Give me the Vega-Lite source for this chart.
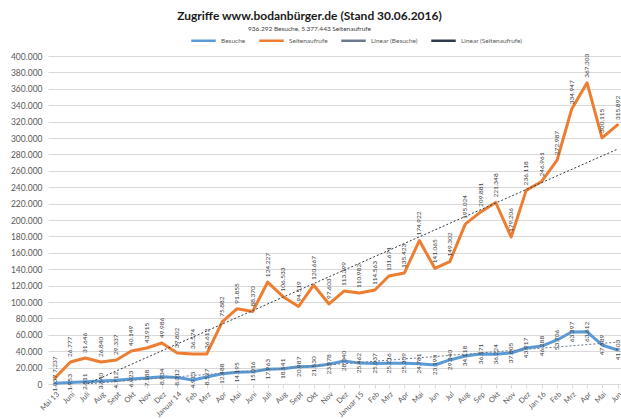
{
  "$schema": "https://vega.github.io/schema/vega-lite/v6.json",
  "width": 573,
  "height": 328,
  "autosize": {"type": "none"},
  "padding": {"left": 48, "top": 56, "right": 0, "bottom": 35},
  "background": "white",
  "title": {
    "text": "Zugriffe www.bodanbürger.de (Stand 30.06.2016)",
    "subtitle": "936.292 Besuche, 5.377.443 Seitenaufrufe",
    "anchor": "middle",
    "frame": "group",
    "dx": -25,
    "offset": -6,
    "font": "Lato",
    "fontSize": 12,
    "fontWeight": "bold",
    "color": "#1a1a1a",
    "subtitleFont": "Lato",
    "subtitleFontSize": 6.5,
    "subtitleColor": "#404040",
    "subtitlePadding": 3
  },
  "data": {
    "values": [
      {"monat": "2013-05-01", "serie": "Besuche", "wert": 1037},
      {"monat": "2013-06-01", "serie": "Besuche", "wert": 1953},
      {"monat": "2013-07-01", "serie": "Besuche", "wert": 2811},
      {"monat": "2013-08-01", "serie": "Besuche", "wert": 3640},
      {"monat": "2013-09-01", "serie": "Besuche", "wert": 4712},
      {"monat": "2013-10-01", "serie": "Besuche", "wert": 6023},
      {"monat": "2013-11-01", "serie": "Besuche", "wert": 7188},
      {"monat": "2013-12-01", "serie": "Besuche", "wert": 8934},
      {"monat": "2014-01-01", "serie": "Besuche", "wert": 8012},
      {"monat": "2014-02-01", "serie": "Besuche", "wert": 4913},
      {"monat": "2014-03-01", "serie": "Besuche", "wert": 8527},
      {"monat": "2014-04-01", "serie": "Besuche", "wert": 12488},
      {"monat": "2014-05-01", "serie": "Besuche", "wert": 14195},
      {"monat": "2014-06-01", "serie": "Besuche", "wert": 15016},
      {"monat": "2014-07-01", "serie": "Besuche", "wert": 17963},
      {"monat": "2014-08-01", "serie": "Besuche", "wert": 18541},
      {"monat": "2014-09-01", "serie": "Besuche", "wert": 20987},
      {"monat": "2014-10-01", "serie": "Besuche", "wert": 21530},
      {"monat": "2014-11-01", "serie": "Besuche", "wert": 23978},
      {"monat": "2014-12-01", "serie": "Besuche", "wert": 28040},
      {"monat": "2015-01-01", "serie": "Besuche", "wert": 25462},
      {"monat": "2015-02-01", "serie": "Besuche", "wert": 25037},
      {"monat": "2015-03-01", "serie": "Besuche", "wert": 25216},
      {"monat": "2015-04-01", "serie": "Besuche", "wert": 25309},
      {"monat": "2015-05-01", "serie": "Besuche", "wert": 24781},
      {"monat": "2015-06-01", "serie": "Besuche", "wert": 23190},
      {"monat": "2015-07-01", "serie": "Besuche", "wert": 29340},
      {"monat": "2015-08-01", "serie": "Besuche", "wert": 34118},
      {"monat": "2015-09-01", "serie": "Besuche", "wert": 36571},
      {"monat": "2015-10-01", "serie": "Besuche", "wert": 36224},
      {"monat": "2015-11-01", "serie": "Besuche", "wert": 37805},
      {"monat": "2015-12-01", "serie": "Besuche", "wert": 43917},
      {"monat": "2016-01-01", "serie": "Besuche", "wert": 46288},
      {"monat": "2016-02-01", "serie": "Besuche", "wert": 53706},
      {"monat": "2016-03-01", "serie": "Besuche", "wert": 63397},
      {"monat": "2016-04-01", "serie": "Besuche", "wert": 63612},
      {"monat": "2016-05-01", "serie": "Besuche", "wert": 47589},
      {"monat": "2016-06-01", "serie": "Besuche", "wert": 41503},
      {"monat": "2013-05-01", "serie": "Seitenaufrufe", "wert": 7237},
      {"monat": "2013-06-01", "serie": "Seitenaufrufe", "wert": 26777},
      {"monat": "2013-07-01", "serie": "Seitenaufrufe", "wert": 31646},
      {"monat": "2013-08-01", "serie": "Seitenaufrufe", "wert": 26840},
      {"monat": "2013-09-01", "serie": "Seitenaufrufe", "wert": 29337},
      {"monat": "2013-10-01", "serie": "Seitenaufrufe", "wert": 40149},
      {"monat": "2013-11-01", "serie": "Seitenaufrufe", "wert": 43915},
      {"monat": "2013-12-01", "serie": "Seitenaufrufe", "wert": 49986},
      {"monat": "2014-01-01", "serie": "Seitenaufrufe", "wert": 37802},
      {"monat": "2014-02-01", "serie": "Seitenaufrufe", "wert": 36574},
      {"monat": "2014-03-01", "serie": "Seitenaufrufe", "wert": 36612},
      {"monat": "2014-04-01", "serie": "Seitenaufrufe", "wert": 75882},
      {"monat": "2014-05-01", "serie": "Seitenaufrufe", "wert": 91855},
      {"monat": "2014-06-01", "serie": "Seitenaufrufe", "wert": 88370},
      {"monat": "2014-07-01", "serie": "Seitenaufrufe", "wert": 124227},
      {"monat": "2014-08-01", "serie": "Seitenaufrufe", "wert": 106533},
      {"monat": "2014-09-01", "serie": "Seitenaufrufe", "wert": 94519},
      {"monat": "2014-10-01", "serie": "Seitenaufrufe", "wert": 120667},
      {"monat": "2014-11-01", "serie": "Seitenaufrufe", "wert": 97603},
      {"monat": "2014-12-01", "serie": "Seitenaufrufe", "wert": 113399},
      {"monat": "2015-01-01", "serie": "Seitenaufrufe", "wert": 110982},
      {"monat": "2015-02-01", "serie": "Seitenaufrufe", "wert": 114563},
      {"monat": "2015-03-01", "serie": "Seitenaufrufe", "wert": 131671},
      {"monat": "2015-04-01", "serie": "Seitenaufrufe", "wert": 135423},
      {"monat": "2015-05-01", "serie": "Seitenaufrufe", "wert": 174922},
      {"monat": "2015-06-01", "serie": "Seitenaufrufe", "wert": 141065},
      {"monat": "2015-07-01", "serie": "Seitenaufrufe", "wert": 149302},
      {"monat": "2015-08-01", "serie": "Seitenaufrufe", "wert": 195024},
      {"monat": "2015-09-01", "serie": "Seitenaufrufe", "wert": 209881},
      {"monat": "2015-10-01", "serie": "Seitenaufrufe", "wert": 221348},
      {"monat": "2015-11-01", "serie": "Seitenaufrufe", "wert": 179206},
      {"monat": "2015-12-01", "serie": "Seitenaufrufe", "wert": 236118},
      {"monat": "2016-01-01", "serie": "Seitenaufrufe", "wert": 246961},
      {"monat": "2016-02-01", "serie": "Seitenaufrufe", "wert": 272987},
      {"monat": "2016-03-01", "serie": "Seitenaufrufe", "wert": 334947},
      {"monat": "2016-04-01", "serie": "Seitenaufrufe", "wert": 367303},
      {"monat": "2016-05-01", "serie": "Seitenaufrufe", "wert": 300115},
      {"monat": "2016-06-01", "serie": "Seitenaufrufe", "wert": 315892}
    ]
  },
  "encoding": {
    "x": {
      "field": "monat",
      "type": "temporal",
      "scale": {
        "type": "utc",
        "domain": [
          {"year": 2013, "month": 4, "date": 17, "utc": true},
          {"year": 2016, "month": 6, "date": 8, "utc": true}
        ]
      },
      "axis": {
        "title": null,
        "grid": false,
        "tickCount": {"interval": "month", "step": 1},
        "labelAngle": -45,
        "labelFontSize": 7.5,
        "labelColor": "#595959",
        "labelOverlap": false,
        "labelFlush": false,
        "labelPadding": 2,
        "domainColor": "#d9d9d9",
        "tickColor": "#d9d9d9",
        "tickSize": 4,
        "labelExpr": "utcyear(datum.value)==2013 && utcmonth(datum.value)==4 ? 'Mai 13' : utcmonth(datum.value)==0 ? (utcyear(datum.value)==2016 ? 'Jan 16' : 'Januar ' + (utcyear(datum.value)-2000)) : (utcyear(datum.value)*12+utcmonth(datum.value) >= 2015*12+5 ? ['Jan','Feb','Mrz','Apr','Mai','Jun','Jul','Aug','Sep','Okt','Nov','Dez'][utcmonth(datum.value)] : ['Januar','Feb','Mrz','Apr','Mai','Juni','Juli','Aug','Sept','Okt','Nov','Dez'][utcmonth(datum.value)])"
      }
    },
    "y": {
      "field": "wert",
      "type": "quantitative",
      "scale": {"domain": [0, 400000], "nice": false},
      "axis": {
        "title": null,
        "tickCount": 20,
        "format": ",d",
        "domain": false,
        "ticks": false,
        "labelPadding": 6,
        "labelFontSize": 8.5,
        "labelColor": "#595959",
        "gridColor": "#d9d9d9"
      }
    }
  },
  "layer": [
    {
      "mark": {"type": "line", "strokeWidth": 3, "strokeCap": "round", "strokeJoin": "round"},
      "encoding": {
        "color": {
          "field": "serie",
          "type": "nominal",
          "scale": {
            "domain": ["Besuche", "Seitenaufrufe", "Linear (Besuche)", "Linear (Seitenaufrufe)"],
            "range": ["#5B9BD5", "#ED7D31", "#6b7a8f", "#2f3b4a"]
          },
          "legend": {
            "title": null,
            "orient": "none",
            "direction": "horizontal",
            "legendX": 142,
            "legendY": -29,
            "symbolType": "stroke",
            "symbolSize": 600,
            "symbolStrokeWidth": 2.5,
            "labelFontSize": 6.5,
            "labelColor": "#595959",
            "columnPadding": 8
          }
        }
      }
    },
    {
      "transform": [
        {"filter": "datum.serie == 'Besuche'"},
        {"regression": "wert", "on": "monat"}
      ],
      "mark": {"type": "line", "strokeWidth": 1, "strokeDash": [2, 2], "clip": true},
      "encoding": {"color": {"datum": "Linear (Besuche)"}}
    },
    {
      "transform": [
        {"filter": "datum.serie == 'Seitenaufrufe'"},
        {"regression": "wert", "on": "monat"}
      ],
      "mark": {"type": "line", "strokeWidth": 1, "strokeDash": [2, 2], "clip": true},
      "encoding": {"color": {"datum": "Linear (Seitenaufrufe)"}}
    },
    {
      "transform": [{"filter": "datum.serie == 'Seitenaufrufe'"}],
      "mark": {"type": "text", "angle": 270, "align": "left", "baseline": "middle", "dx": 5, "fontSize": 6.5, "color": "#404040"},
      "encoding": {"text": {"field": "wert", "type": "quantitative", "format": ","}}
    },
    {
      "transform": [{"filter": "datum.serie == 'Besuche'"}],
      "mark": {"type": "text", "angle": 270, "align": "center", "baseline": "middle", "fontSize": 6.5, "color": "#404040"},
      "encoding": {"text": {"field": "wert", "type": "quantitative", "format": ","}}
    }
  ],
  "config": {
    "font": "Lato",
    "view": {"stroke": null},
    "locale": {
      "number": {"decimal": ",", "thousands": ".", "grouping": [3], "currency": ["", " €"]}
    }
  }
}
